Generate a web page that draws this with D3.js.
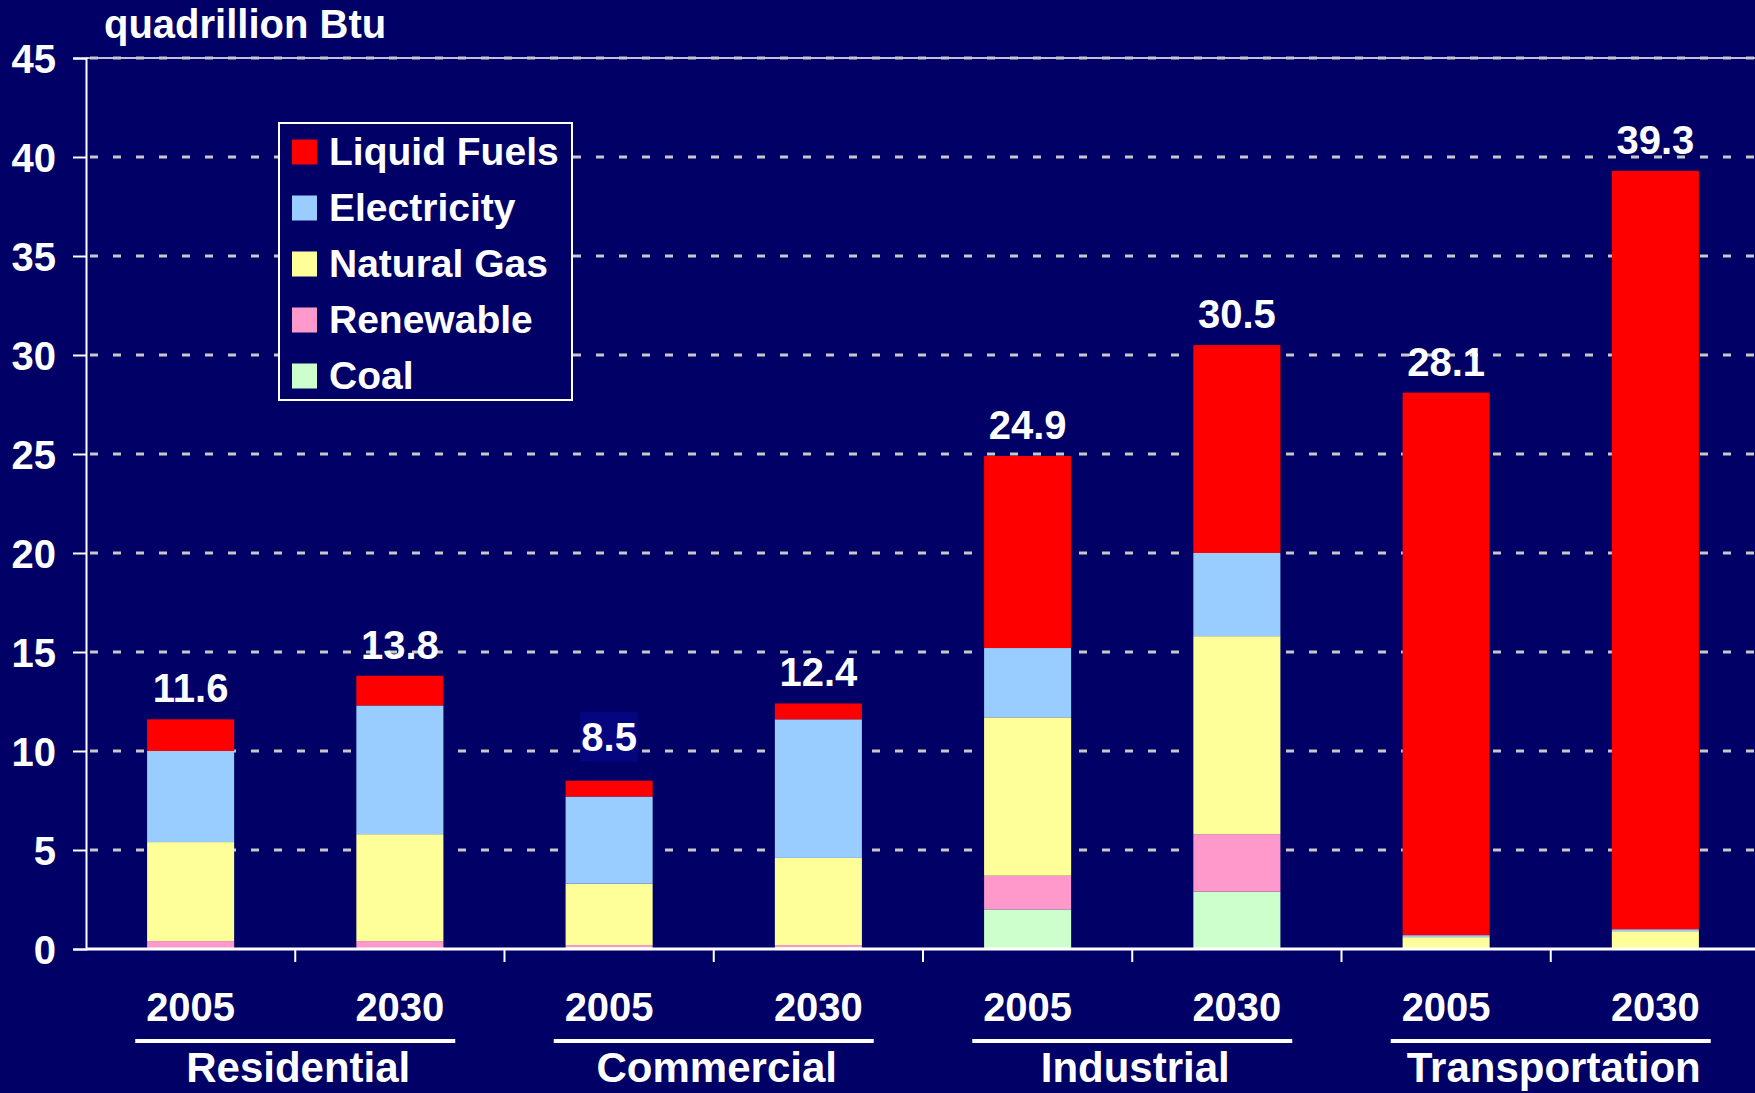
<!DOCTYPE html>
<html lang="en">
<head>
    <meta charset="UTF-8">
    <script src="https://d3js.org/d3.v7.min.js"></script>
    <title>Delivered energy by sector</title>
    <style>
        body { margin: 0; background: #000066; }
        svg { display: block; }
        text {
            font-family: "Liberation Sans", Arial, Helvetica, sans-serif;
            font-weight: bold;
            fill: #fff;
        }
    </style>
</head>
<body>
<svg id="chart" width="1755" height="1093"></svg>
<script>
    // values in quadrillion Btu
    const sectors = ["Residential", "Commercial", "Industrial", "Transportation"];
    const years = ["2005", "2030"];
    const coal        = [0,   0,   0.1, 0.1, 2.0, 2.9,  0,    0];
    const renewable   = [0.4, 0.4, 0.1, 0.1, 1.7, 2.9,  0,    0];
    const naturalGas  = [5.0, 5.4, 3.1, 4.4, 8.0, 10.0, 0.6,  0.9];
    const electricity = [4.6, 6.5, 4.4, 7.0, 3.5, 4.2,  0.1,  0.1];
    const liquidFuels = [1.6, 1.5, 0.8, 0.8, 9.7, 10.5, 27.4, 38.3];
    const totals      = [11.6, 13.8, 8.5, 12.4, 24.9, 30.5, 28.1, 39.3];
    const yTicks = [0, 5, 10, 15, 20, 25, 30, 35, 40, 45];

    const series = [
        { key: "coal", name: "Coal", color: "#CCFFCC", values: coal },
        { key: "renewable", name: "Renewable", color: "#FF99CC", values: renewable },
        { key: "gas", name: "Natural Gas", color: "#FFFF99", values: naturalGas },
        { key: "elec", name: "Electricity", color: "#99CCFF", values: electricity },
        { key: "liquid", name: "Liquid Fuels", color: "#FF0000", values: liquidFuels }
    ];

    const rows = totals.map((t, i) => {
        const r = { i: i, sector: sectors[Math.floor(i / 2)], year: years[i % 2] };
        series.forEach(s => r[s.key] = s.values[i]);
        return r;
    });

    const svg = d3.select("#chart");
    const plotLeft = 86, plotRight = 1760, plotTop = 58, plotBottom = 949;

    const x = d3.scaleBand()
        .domain(rows.map(d => d.i))
        .range([plotLeft, plotRight])
        .paddingInner(0.584)
        .paddingOuter(0.292);
    const y = d3.scaleLinear().domain([0, 45]).range([plotBottom, plotTop]);

    // gridlines
    svg.append("line")
        .attr("x1", plotLeft).attr("x2", 1755)
        .attr("y1", y(45)).attr("y2", y(45))
        .attr("stroke", "#fff").attr("stroke-width", 1.5);
    svg.append("g").selectAll("line")
        .data(yTicks.filter(d => d > 0))
        .join("line")
        .attr("x1", plotLeft + 4).attr("x2", 1755)
        .attr("y1", d => y(d)).attr("y2", d => y(d))
        .attr("stroke", "#C8C8C8")
        .attr("stroke-width", 3)
        .attr("stroke-dasharray", "8 15");

    // stacked bars
    const stack = d3.stack().keys(series.map(s => s.key));
    const layers = stack(rows);
    svg.append("g").selectAll("g")
        .data(layers)
        .join("g")
        .attr("fill", (d, k) => series[k].color)
        .selectAll("rect")
        .data(d => d)
        .join("rect")
        .attr("x", d => x(d.data.i))
        .attr("width", x.bandwidth())
        .attr("y", d => y(d[1]))
        .attr("height", d => y(d[0]) - y(d[1]));

    // total labels (the 8.5 one sits higher, on its own box)
    const boxed = i => i === 2;
    const lab = svg.append("g");
    lab.selectAll("rect")
        .data(rows.filter(d => boxed(d.i)))
        .join("rect")
        .attr("x", d => x(d.i) + x.bandwidth() / 2 - 29)
        .attr("y", d => y(totals[d.i]) - 69)
        .attr("width", 58)
        .attr("height", 50)
        .attr("fill", "#05057F");
    lab.selectAll("text")
        .data(rows)
        .join("text")
        .attr("x", d => x(d.i) + x.bandwidth() / 2)
        .attr("y", d => y(totals[d.i]) - (boxed(d.i) ? 30 : 17))
        .attr("text-anchor", "middle")
        .attr("font-size", 40)
        .text(d => totals[d.i].toFixed(1));

    // y axis
    const yAxis = svg.append("g")
        .attr("transform", `translate(${plotLeft},0)`)
        .call(d3.axisLeft(y).tickValues(yTicks).tickSize(13).tickPadding(17));
    yAxis.select(".domain").attr("stroke", "#fff").attr("stroke-width", 2);
    yAxis.selectAll(".tick line").attr("stroke", "#fff").attr("stroke-width", 2);
    yAxis.selectAll(".tick text")
        .attr("font-size", 40)
        .attr("font-family", null)
        .attr("fill", "#fff")
        .attr("dy", "0.36em");

    // x axis
    svg.append("line")
        .attr("x1", plotLeft).attr("x2", 1755)
        .attr("y1", plotBottom).attr("y2", plotBottom)
        .attr("stroke", "#fff").attr("stroke-width", 3);
    svg.append("g").selectAll("line")
        .data(d3.range(1, rows.length))
        .join("line")
        .attr("x1", k => plotLeft + k * x.step())
        .attr("x2", k => plotLeft + k * x.step())
        .attr("y1", plotBottom).attr("y2", plotBottom + 13)
        .attr("stroke", "#fff").attr("stroke-width", 2);

    svg.append("g").selectAll("text")
        .data(rows)
        .join("text")
        .attr("x", d => x(d.i) + x.bandwidth() / 2)
        .attr("y", 1021)
        .attr("text-anchor", "middle")
        .attr("font-size", 40)
        .text(d => d.year);

    const groupCenter = g => plotLeft + (2 * g + 1) * x.step();
    svg.append("g").selectAll("line")
        .data(sectors)
        .join("line")
        .attr("x1", (d, g) => groupCenter(g) - 160)
        .attr("x2", (d, g) => groupCenter(g) + 160)
        .attr("y1", 1041).attr("y2", 1041)
        .attr("stroke", "#fff").attr("stroke-width", 4);
    svg.append("g").selectAll("text")
        .data(sectors)
        .join("text")
        .attr("x", (d, g) => groupCenter(g) + 3)
        .attr("y", 1082)
        .attr("text-anchor", "middle")
        .attr("font-size", 42)
        .text(d => d);

    // unit label
    svg.append("text")
        .attr("x", 104).attr("y", 38)
        .attr("font-size", 40)
        .text("quadrillion Btu");

    // legend
    const legend = svg.append("g");
    legend.append("rect")
        .attr("x", 279).attr("y", 123)
        .attr("width", 293).attr("height", 277)
        .attr("fill", "#000066")
        .attr("stroke", "#fff").attr("stroke-width", 2);
    const items = legend.selectAll("g")
        .data(series.slice().reverse())
        .join("g")
        .attr("transform", (d, k) => `translate(292,${152 + k * 56})`);
    items.append("rect")
        .attr("y", -12.5).attr("width", 25).attr("height", 25)
        .attr("fill", d => d.color);
    items.append("text")
        .attr("x", 37).attr("y", 13)
        .attr("font-size", 39)
        .text(d => d.name);
</script>
</body>
</html>
